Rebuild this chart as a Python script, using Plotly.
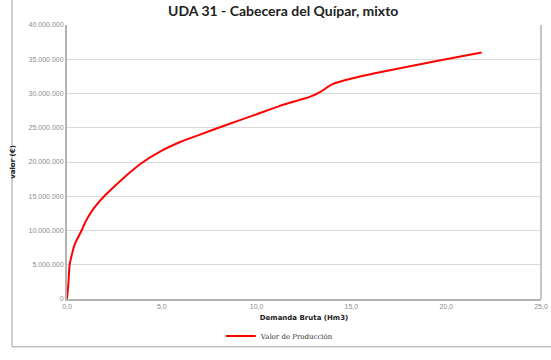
import plotly.graph_objects as go

# Demanda bruta (Hm3) y valor de producción (€)
demanda = [0.0, 0.03, 0.07, 0.14, 0.25, 0.4, 0.77, 1.0, 1.3, 1.6, 2.0, 3.0, 3.94,
           5.0, 6.0, 7.01, 8.25, 9.83, 11.23, 12.2, 12.8, 13.34, 13.96, 14.75,
           16.5, 19.77, 21.87]
valor = [0, 1000000, 2100000, 5000000, 6400000, 7900000, 10000000, 11400000,
         12800000, 13900000, 15100000, 17700000, 19850000, 21650000, 22950000,
         24000000, 25250000, 26800000, 28200000, 29000000, 29500000, 30200000,
         31300000, 32000000, 33100000, 34900000, 36000000]

y_ticks = [0, 5000000, 10000000, 15000000, 20000000, 25000000, 30000000, 35000000, 40000000]
x_ticks = [0, 5, 10, 15, 20, 25]

fig = go.Figure()
fig.add_trace(go.Scatter(
    x=demanda, y=valor, mode="lines", name="Valor de Producción",
    line=dict(color="#ff0000", width=2, shape="spline", smoothing=0.8),
))

tick_font = dict(family="Liberation Sans, Arial", size=7, color="#8c8c8c")
fig.update_layout(
    width=551, height=360,
    margin=dict(l=67, r=10, t=25, b=59),
    paper_bgcolor="white", plot_bgcolor="white",
    separators=",.",
    title=dict(text="<b>UDA 31 - Cabecera del Quípar, mixto</b>",
               x=0.514, xanchor="center", y=0.968, yanchor="middle",
               font=dict(family="Lato", size=14, color="#222222")),
    showlegend=True,
    legend=dict(orientation="h", x=0.45, xanchor="center", y=-0.135, yanchor="middle",
                font=dict(family="DejaVu Serif", size=7, color="#333333"),
                itemwidth=30, bgcolor="rgba(0,0,0,0)"),
    xaxis=dict(range=[0, 25], tickvals=x_ticks, tickformat=".1f", automargin=False,
               showgrid=False, zeroline=False,
               showline=True, linecolor="#b3b3b3", linewidth=2, mirror=False,
               ticks="", tickfont=tick_font,
               title=dict(text="<b>Demanda Bruta (Hm3)</b>", standoff=6,
                          font=dict(family="DejaVu Sans", size=7, color="#222222"))),
    yaxis=dict(range=[0, 40000000], tickvals=y_ticks, tickformat=",d", automargin=False,
               showgrid=True, gridcolor="#d9d9d9", gridwidth=1, zeroline=False,
               showline=True, linecolor="#b3b3b3", linewidth=2,
               ticks="", tickfont=tick_font,
               title=dict(text="<b>valor (€)</b>", standoff=12,
                          font=dict(family="DejaVu Sans", size=7, color="#222222"))),
    shapes=[
        # right border of the plot area
        dict(type="line", xref="paper", yref="paper", x0=1, x1=1, y0=0, y1=1,
             line=dict(color="#b3b3b3", width=1.5)),
        # outer chart frame
        dict(type="line", xref="paper", yref="paper", x0=-0.116, x1=-0.116, y0=-0.174, y1=1.1,
             line=dict(color="#bfbfbf", width=1.5)),
        dict(type="line", xref="paper", yref="paper", x0=-0.116, x1=1.03, y0=-0.174, y1=-0.174,
             line=dict(color="#bfbfbf", width=1.5)),
    ],
)

fig.write_html("out.html")
